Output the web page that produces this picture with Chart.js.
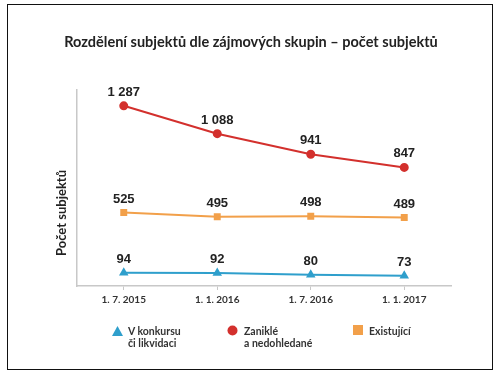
<!DOCTYPE html>
<html>
<head>
<meta charset="utf-8">
<script src="https://cdn.jsdelivr.net/npm/chart.js@4"></script>
<style>
	body { margin: 0; background: #fff; }
	#wrap { position: relative; width: 498px; height: 376px; }
	#frame { position: absolute; left: 7px; top: 4px; width: 484px; height: 364px; border: 1px solid #111; box-sizing: content-box; pointer-events: none; }
	canvas { position: absolute; left: 0; top: 0; }
	.leg { position: absolute; font: bold 10.5px Lato, sans-serif; color: #333; line-height: 12px; }
	.mark { position: absolute; }
</style>
</head>
<body>
<div id="wrap">
	<canvas id="chart" width="498" height="376"></canvas>
	<div id="frame"></div>
	<div id="legend"></div>
</div>
<script>
const categories = ['1. 7. 2015', '1. 1. 2016', '1. 7. 2016', '1. 1. 2017'];
const konkurs = [94, 92, 80, 73];
const zanikle = [1287, 1088, 941, 847];
const existujici = [525, 495, 498, 489];
const seriesNames = [['V konkursu', 'či likvidaci'], ['Zaniklé', 'a nedohledané'], ['Existující']];
const chartTitle = 'Rozdělení subjektů dle zájmových skupin – počet subjektů';
const yTitle = 'Počet subjektů';
const colors = ['#2f9fcc', '#d3302d', '#f2a04a'];

const fmt = (v) => String(v).replace(/\B(?=(\d{3})+(?!\d))/g, ' ');

// values above the points, the chart title and the y axis title (sits low, not centred)
const valueLabels = {
	id: 'valueLabels',
	afterDatasetsDraw(chart) {
		const ctx = chart.ctx;
		ctx.save();
		ctx.font = 'bold 13px "Liberation Sans", Arial, sans-serif';
		ctx.fillStyle = '#222';
		ctx.textAlign = 'center';
		ctx.textBaseline = 'bottom';
		chart.data.datasets.forEach((ds, i) => {
			chart.getDatasetMeta(i).data.forEach((pt, j) => {
				ctx.fillText(fmt(ds.data[j]), pt.x, pt.y - 7);
			});
		});
		ctx.textBaseline = 'middle';
		ctx.font = 'bold 14.5px Lato, sans-serif';
		ctx.fillText(chartTitle, 251, 42);
		const area = chart.chartArea;
		ctx.translate(area.left - 15, area.bottom - 73);
		ctx.rotate(-Math.PI / 2);
		ctx.font = 'bold 13px Lato, sans-serif';
		ctx.fillText(yTitle, 0, 0);
		ctx.restore();
	}
};

new Chart(document.getElementById('chart'), {
	type: 'line',
	data: {
		labels: categories,
		datasets: [
			{ data: konkurs, borderColor: colors[0], backgroundColor: colors[0], pointStyle: 'triangle', pointRadius: 3.5, borderWidth: 2 },
			{ data: zanikle, borderColor: colors[1], backgroundColor: colors[1], pointStyle: 'circle', pointRadius: 3.5, borderWidth: 2 },
			{ data: existujici, borderColor: colors[2], backgroundColor: colors[2], pointStyle: 'rect', pointRadius: 3.5, borderWidth: 2 },
		],
	},
	options: {
		responsive: false,
		animation: false,
		layout: { padding: { left: 69, right: 47, top: 90, bottom: 66 } },
		plugins: {
			legend: { display: false },
			tooltip: { enabled: false },
		},
		scales: {
			x: {
				offset: true,
				grid: { drawOnChartArea: false, tickLength: 4, color: '#c8c8c8' },
				border: { color: '#c8c8c8', width: 1.5 },
				ticks: { color: '#333', padding: 4, font: { family: 'Lato', size: 10, weight: 'bold' } },
			},
			y: {
				min: 0,
				max: 1400,
				grid: { display: false },
				border: { display: true, color: '#c8c8c8', width: 1.5 },
				ticks: { display: false },
			},
		},
	},
	plugins: [valueLabels],
});

// legend under the chart
const legend = document.getElementById('legend');
const legX = [112, 227, 353];
const shapes = [
	`<svg class="mark" width="11" height="10" style="left:0;top:1px"><polygon points="5.5,0 11,10 0,10" fill="${colors[0]}"/></svg>`,
	`<svg class="mark" width="11" height="11" style="left:0;top:0"><circle cx="5.5" cy="5.5" r="5" fill="${colors[1]}"/></svg>`,
	`<svg class="mark" width="10" height="10" style="left:0;top:0"><rect width="10" height="10" fill="${colors[2]}"/></svg>`,
];
seriesNames.forEach((name, i) => {
	const d = document.createElement('div');
	d.className = 'leg';
	d.style.left = legX[i] + 'px';
	d.style.top = '325px';
	d.innerHTML = shapes[i] + `<div style="margin-left:${i == 1 ? 17 : 16}px">${name.join('<br>')}</div>`;
	legend.appendChild(d);
});
</script>
</body>
</html>
